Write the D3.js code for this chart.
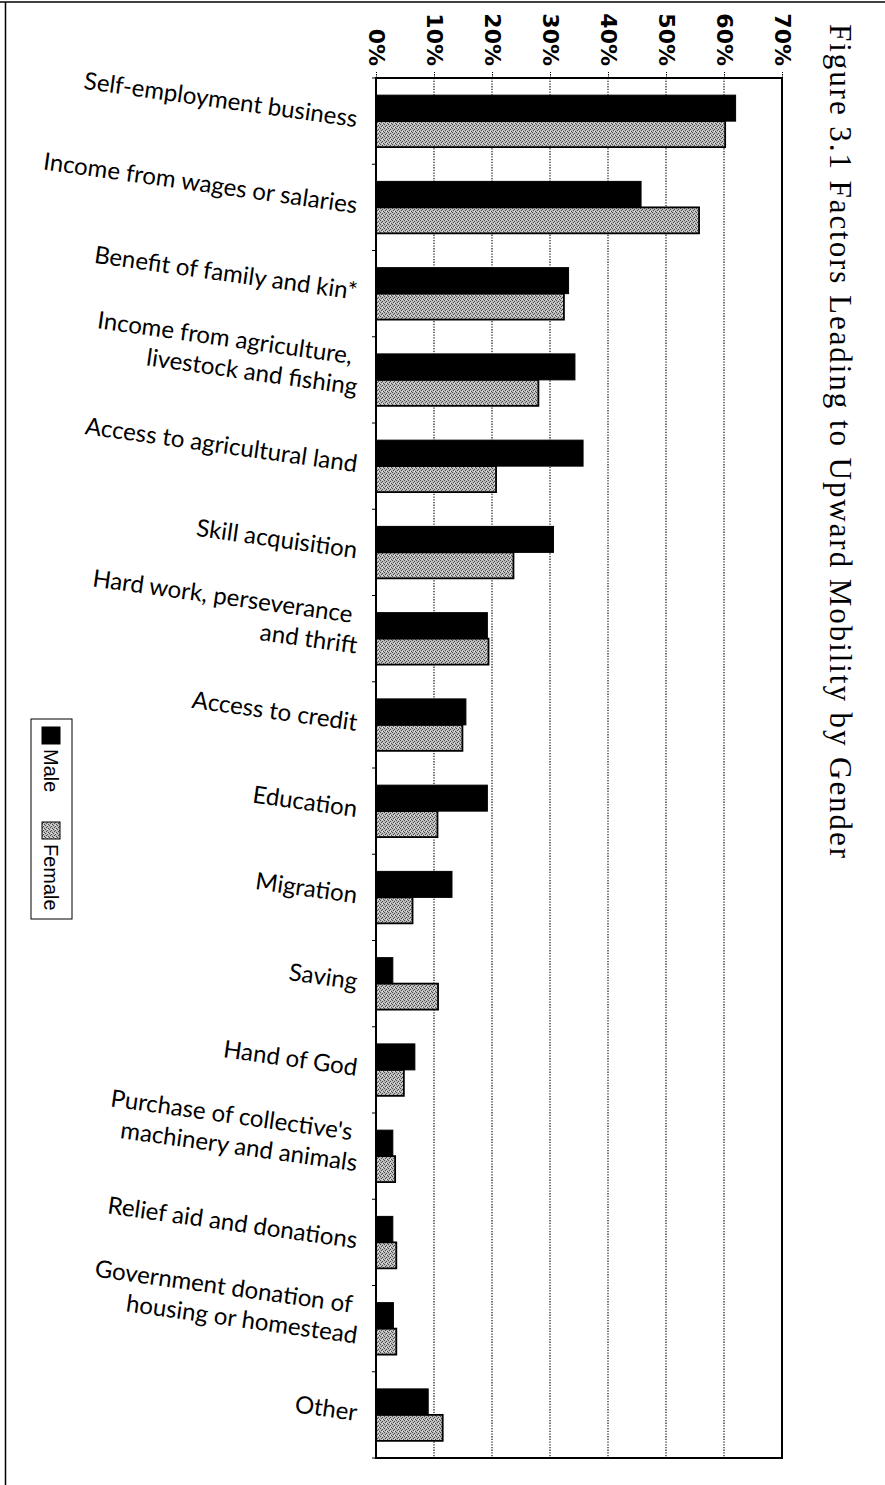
<!DOCTYPE html>
<html><head><meta charset="utf-8">
<script src="https://cdn.jsdelivr.net/npm/d3@7"></script>
<style>body{margin:0;background:#fff}svg{display:block}</style>
</head><body>
<svg id="c" width="885" height="1485"></svg>
<script>
// ---------- data ----------
const categories = [
  ["Self-employment business"],
  ["Income from wages or salaries"],
  ["Benefit of family and kin*"],
  ["Income from agriculture,", "livestock and fishing"],
  ["Access to agricultural land"],
  ["Skill acquisition"],
  ["Hard work, perseverance", "and thrift"],
  ["Access to credit"],
  ["Education"],
  ["Migration"],
  ["Saving"],
  ["Hand of God"],
  ["Purchase of collective's", "machinery and animals"],
  ["Relief aid and donations"],
  ["Government donation of", "housing or homestead"],
  ["Other"]
];
const male   = [62.0, 45.7, 33.2, 34.3, 35.7, 30.6, 19.2, 15.5, 19.2, 13.1, 2.9, 6.7, 2.9, 2.9, 3.0, 9.0];
const female = [60.2, 55.7, 32.4, 28.0, 20.7, 23.7, 19.4, 14.9, 10.6, 6.3, 10.7, 4.8, 3.3, 3.5, 3.5, 11.5];
const tickValues = [0, 10, 20, 30, 40, 50, 60, 70];
const seriesNames = ["Male", "Female"];
const titleText = "Figure 3.1 Factors Leading to Upward Mobility by Gender";

// ---------- setup ----------
const svg = d3.select("#c");
const defs = svg.append("defs");
const pat = defs.append("pattern").attr("id", "stip")
  .attr("patternUnits", "userSpaceOnUse").attr("width", 4).attr("height", 4);
pat.append("rect").attr("width", 4).attr("height", 4).attr("fill", "#bdbdbd");
[[0,0],[2,1],[1,2],[3,3],[2,3]].forEach(([px,py], k) =>
  pat.append("rect").attr("x", px).attr("y", py).attr("width", 1).attr("height", 1)
    .attr("fill", k === 4 ? "#e8e8e8" : "#4a4a4a"));

const x = d3.scaleLinear().domain([0, 70]).range([376, 782]);
const y = d3.scaleBand().domain(d3.range(categories.length)).range([78, 1458]).padding(0);
const ys = d3.scaleBand().domain(seriesNames).range([0, y.bandwidth()]).paddingInner(0).paddingOuter(0.66);

// outer page frame (top + left)
svg.append("line").attr("x1", 0).attr("x2", 885).attr("y1", 2).attr("y2", 2)
  .attr("stroke", "#000").attr("stroke-width", 1.5);
svg.append("line").attr("x1", 5.5).attr("x2", 5.5).attr("y1", 2).attr("y2", 1485)
  .attr("stroke", "#000").attr("stroke-width", 1.5);

// gridlines
svg.append("g").selectAll("line").data(tickValues.filter(d => d > 0 && d < 70)).join("line")
  .attr("x1", d => x(d)).attr("x2", d => x(d))
  .attr("y1", y.range()[0]).attr("y2", y.range()[1])
  .attr("stroke", "#000").attr("stroke-width", 1.1).attr("stroke-dasharray", "1.3,1.4");

// top axis
const ax = svg.append("g").attr("transform", `translate(0,${y.range()[0]})`)
  .call(d3.axisTop(x).tickValues(tickValues).tickSize(6).tickFormat(d => d + "%"));
ax.select(".domain").remove();
ax.selectAll(".tick line").attr("stroke", "#000").attr("stroke-dasharray", "1.5,1");
ax.selectAll(".tick text")
  .attr("x", 0).attr("y", 0).attr("dy", "0.36em")
  .attr("transform", "translate(0,-12) rotate(90)")
  .attr("text-anchor", "end")
  .attr("font-family", "'DejaVu Sans', sans-serif")
  .attr("font-weight", 700).attr("font-size", 22).attr("fill", "#000");

// left axis ticks at band boundaries
svg.append("g").selectAll("line").data(d3.range(categories.length + 1)).join("line")
  .attr("x1", x(0) - 4).attr("x2", x(0))
  .attr("y1", d => y.range()[0] + d * y.step()).attr("y2", d => y.range()[0] + d * y.step())
  .attr("stroke", "#000").attr("stroke-width", 1);

// bars
const rows = categories.map((c, i) => ({ i, Male: male[i], Female: female[i] }));
const gBars = svg.append("g");
rows.forEach(r => {
  gBars.append("rect")
    .attr("x", x(0)).attr("y", y(r.i) + ys("Female"))
    .attr("width", x(r.Female) - x(0)).attr("height", ys.bandwidth())
    .attr("fill", "url(#stip)").attr("stroke", "#000").attr("stroke-width", 1.8);
  gBars.append("rect")
    .attr("x", x(0)).attr("y", y(r.i) + ys("Male"))
    .attr("width", x(r.Male) - x(0)).attr("height", ys.bandwidth())
    .attr("fill", "#000").attr("stroke", "#000").attr("stroke-width", 1);
});

// plot frame
svg.append("rect").attr("x", x(0)).attr("y", y.range()[0])
  .attr("width", x(70) - x(0)).attr("height", y.range()[1] - y.range()[0])
  .attr("fill", "none").attr("stroke", "#000").attr("stroke-width", 2);

// category labels (tilted)
const lab = svg.append("g")
  .attr("font-family", "Lato, 'Open Sans', sans-serif").attr("font-size", 24).attr("fill", "#000");
categories.forEach((lines, i) => {
  const n = lines.length;
  const cy = y(i) + y.bandwidth() / 2 + (n === 1 ? 6 : 15);
  const g = lab.append("g").attr("transform", `translate(356,${cy}) rotate(8)`);
  lines.forEach((t, k) => {
    g.append("text").attr("x", k < n - 1 ? -9 : 0).attr("y", -(n - 1 - k) * 30)
      .attr("text-anchor", "end").text(t);
  });
});

// title (rotated)
svg.append("text")
  .attr("transform", "translate(830,24) rotate(90)")
  .attr("x", 0).attr("y", 0)
  .attr("font-family", "'Liberation Serif', 'Times New Roman', serif")
  .attr("font-size", 31).attr("fill", "#000")
  .attr("textLength", 834).attr("lengthAdjust", "spacing")
  .text(titleText);

// legend (rotated)
const lg = svg.append("g");
lg.append("rect").attr("x", 31).attr("y", 719).attr("width", 41).attr("height", 200)
  .attr("fill", "#fff").attr("stroke", "#000").attr("stroke-width", 1);
const li = lg.append("g").attr("transform", "translate(51,727) rotate(90)");
const legendPos = [0, 95];
seriesNames.forEach((s, k) => {
  li.append("rect").attr("x", legendPos[k]).attr("y", -9).attr("width", 17).attr("height", 18)
    .attr("fill", s === "Male" ? "#000" : "url(#stip)").attr("stroke", "#000").attr("stroke-width", 1);
  li.append("text").attr("x", legendPos[k] + 22).attr("y", 0).attr("dy", "0.36em")
    .attr("font-family", "'Liberation Sans', Arial, sans-serif").attr("font-size", 20)
    .attr("fill", "#000").text(s);
});
</script>
</body></html>
